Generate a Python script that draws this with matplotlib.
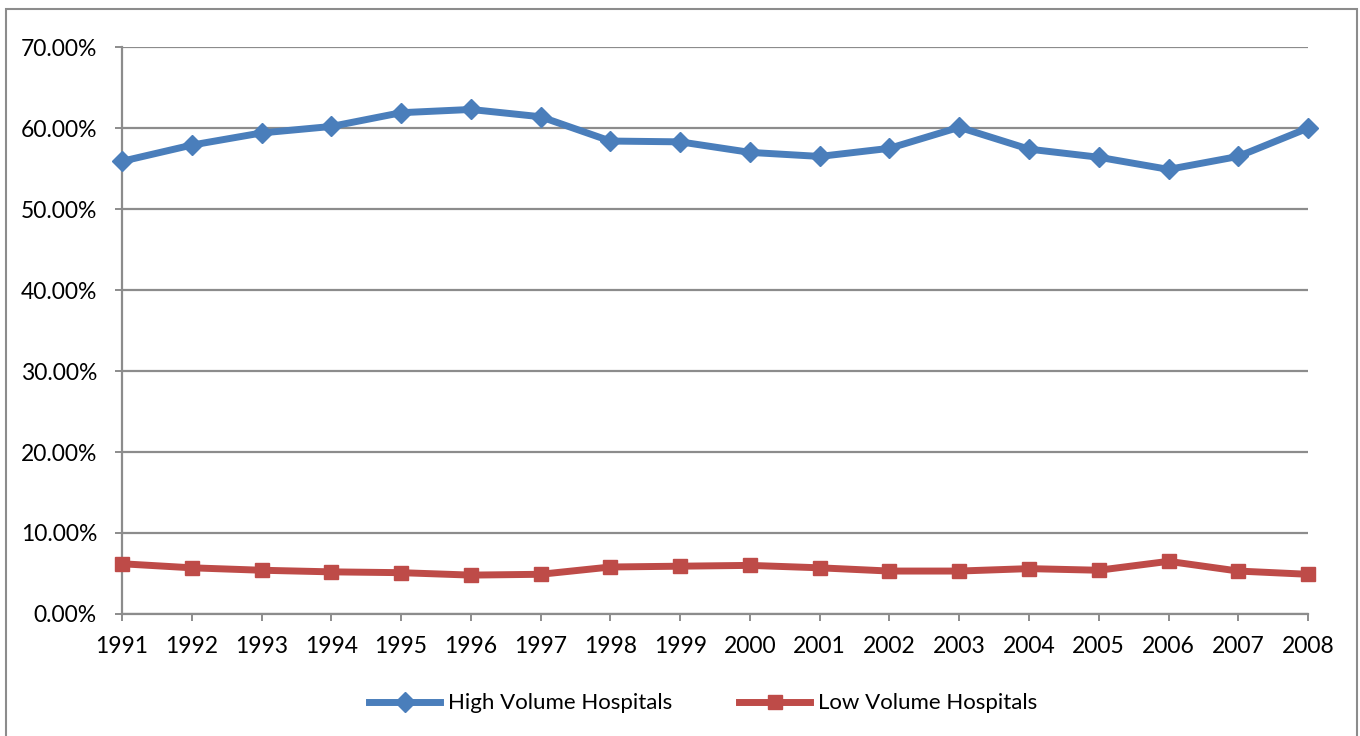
import matplotlib.pyplot as plt
from matplotlib.patches import Rectangle
from matplotlib.ticker import FuncFormatter

years = list(range(1991, 2009))
high_volume = [55.9, 57.9, 59.4, 60.2, 61.9, 62.3, 61.4, 58.4, 58.3, 57.0,
               56.5, 57.5, 60.1, 57.4, 56.4, 54.9, 56.5, 60.0]
low_volume = [6.2, 5.7, 5.4, 5.2, 5.1, 4.8, 4.9, 5.8, 5.9, 6.0,
              5.7, 5.3, 5.3, 5.6, 5.4, 6.5, 5.3, 4.9]

plt.rcParams['font.family'] = ['Lato', 'DejaVu Sans']

fig = plt.figure(figsize=(13.6, 7.36), dpi=100)
ax = fig.add_axes([0.0897, 0.1658, 0.8721, 0.7702])

# outer frame of the chart area
fig.patches.append(Rectangle((6 / 1360, -0.05), 1351 / 1360, 1.05 - 9 / 736,
                             transform=fig.transFigure, fill=False,
                             edgecolor='#8c8c8c', linewidth=1.5, clip_on=False))

ax.plot(years, high_volume, color='#4A7EBB', linewidth=5, marker='D',
        markersize=10, label='High Volume Hospitals', clip_on=False, zorder=3)
ax.plot(years, low_volume, color='#BE4B48', linewidth=5, marker='s',
        markersize=10.5, label='Low Volume Hospitals', clip_on=False, zorder=3)

ax.set_xlim(1991, 2008)
ax.set_ylim(0, 70)
ax.set_xticks(years)
ax.set_yticks(range(0, 71, 10))
ax.yaxis.set_major_formatter(FuncFormatter(lambda v, p: f'{v:.2f}%'))

ax.grid(axis='y', color='#8c8c8c', linewidth=1.6)
ax.set_axisbelow(True)
for side in ['top', 'right']:
    ax.spines[side].set_visible(False)
for side in ['left', 'bottom']:
    ax.spines[side].set_color('#8c8c8c')
    ax.spines[side].set_linewidth(1.6)
ax.tick_params(axis='both', colors='#8c8c8c', labelcolor='black',
               labelsize=16.5, length=5, width=1.4)
ax.tick_params(axis='y', pad=13)
ax.tick_params(axis='x', pad=11)

ax.legend(loc='upper center', bbox_to_anchor=(0.49, -0.105), ncol=2,
          frameon=False, fontsize=16, handlelength=3.2, columnspacing=3,
          handletextpad=0.35)

plt.savefig('out.png', dpi=100)
